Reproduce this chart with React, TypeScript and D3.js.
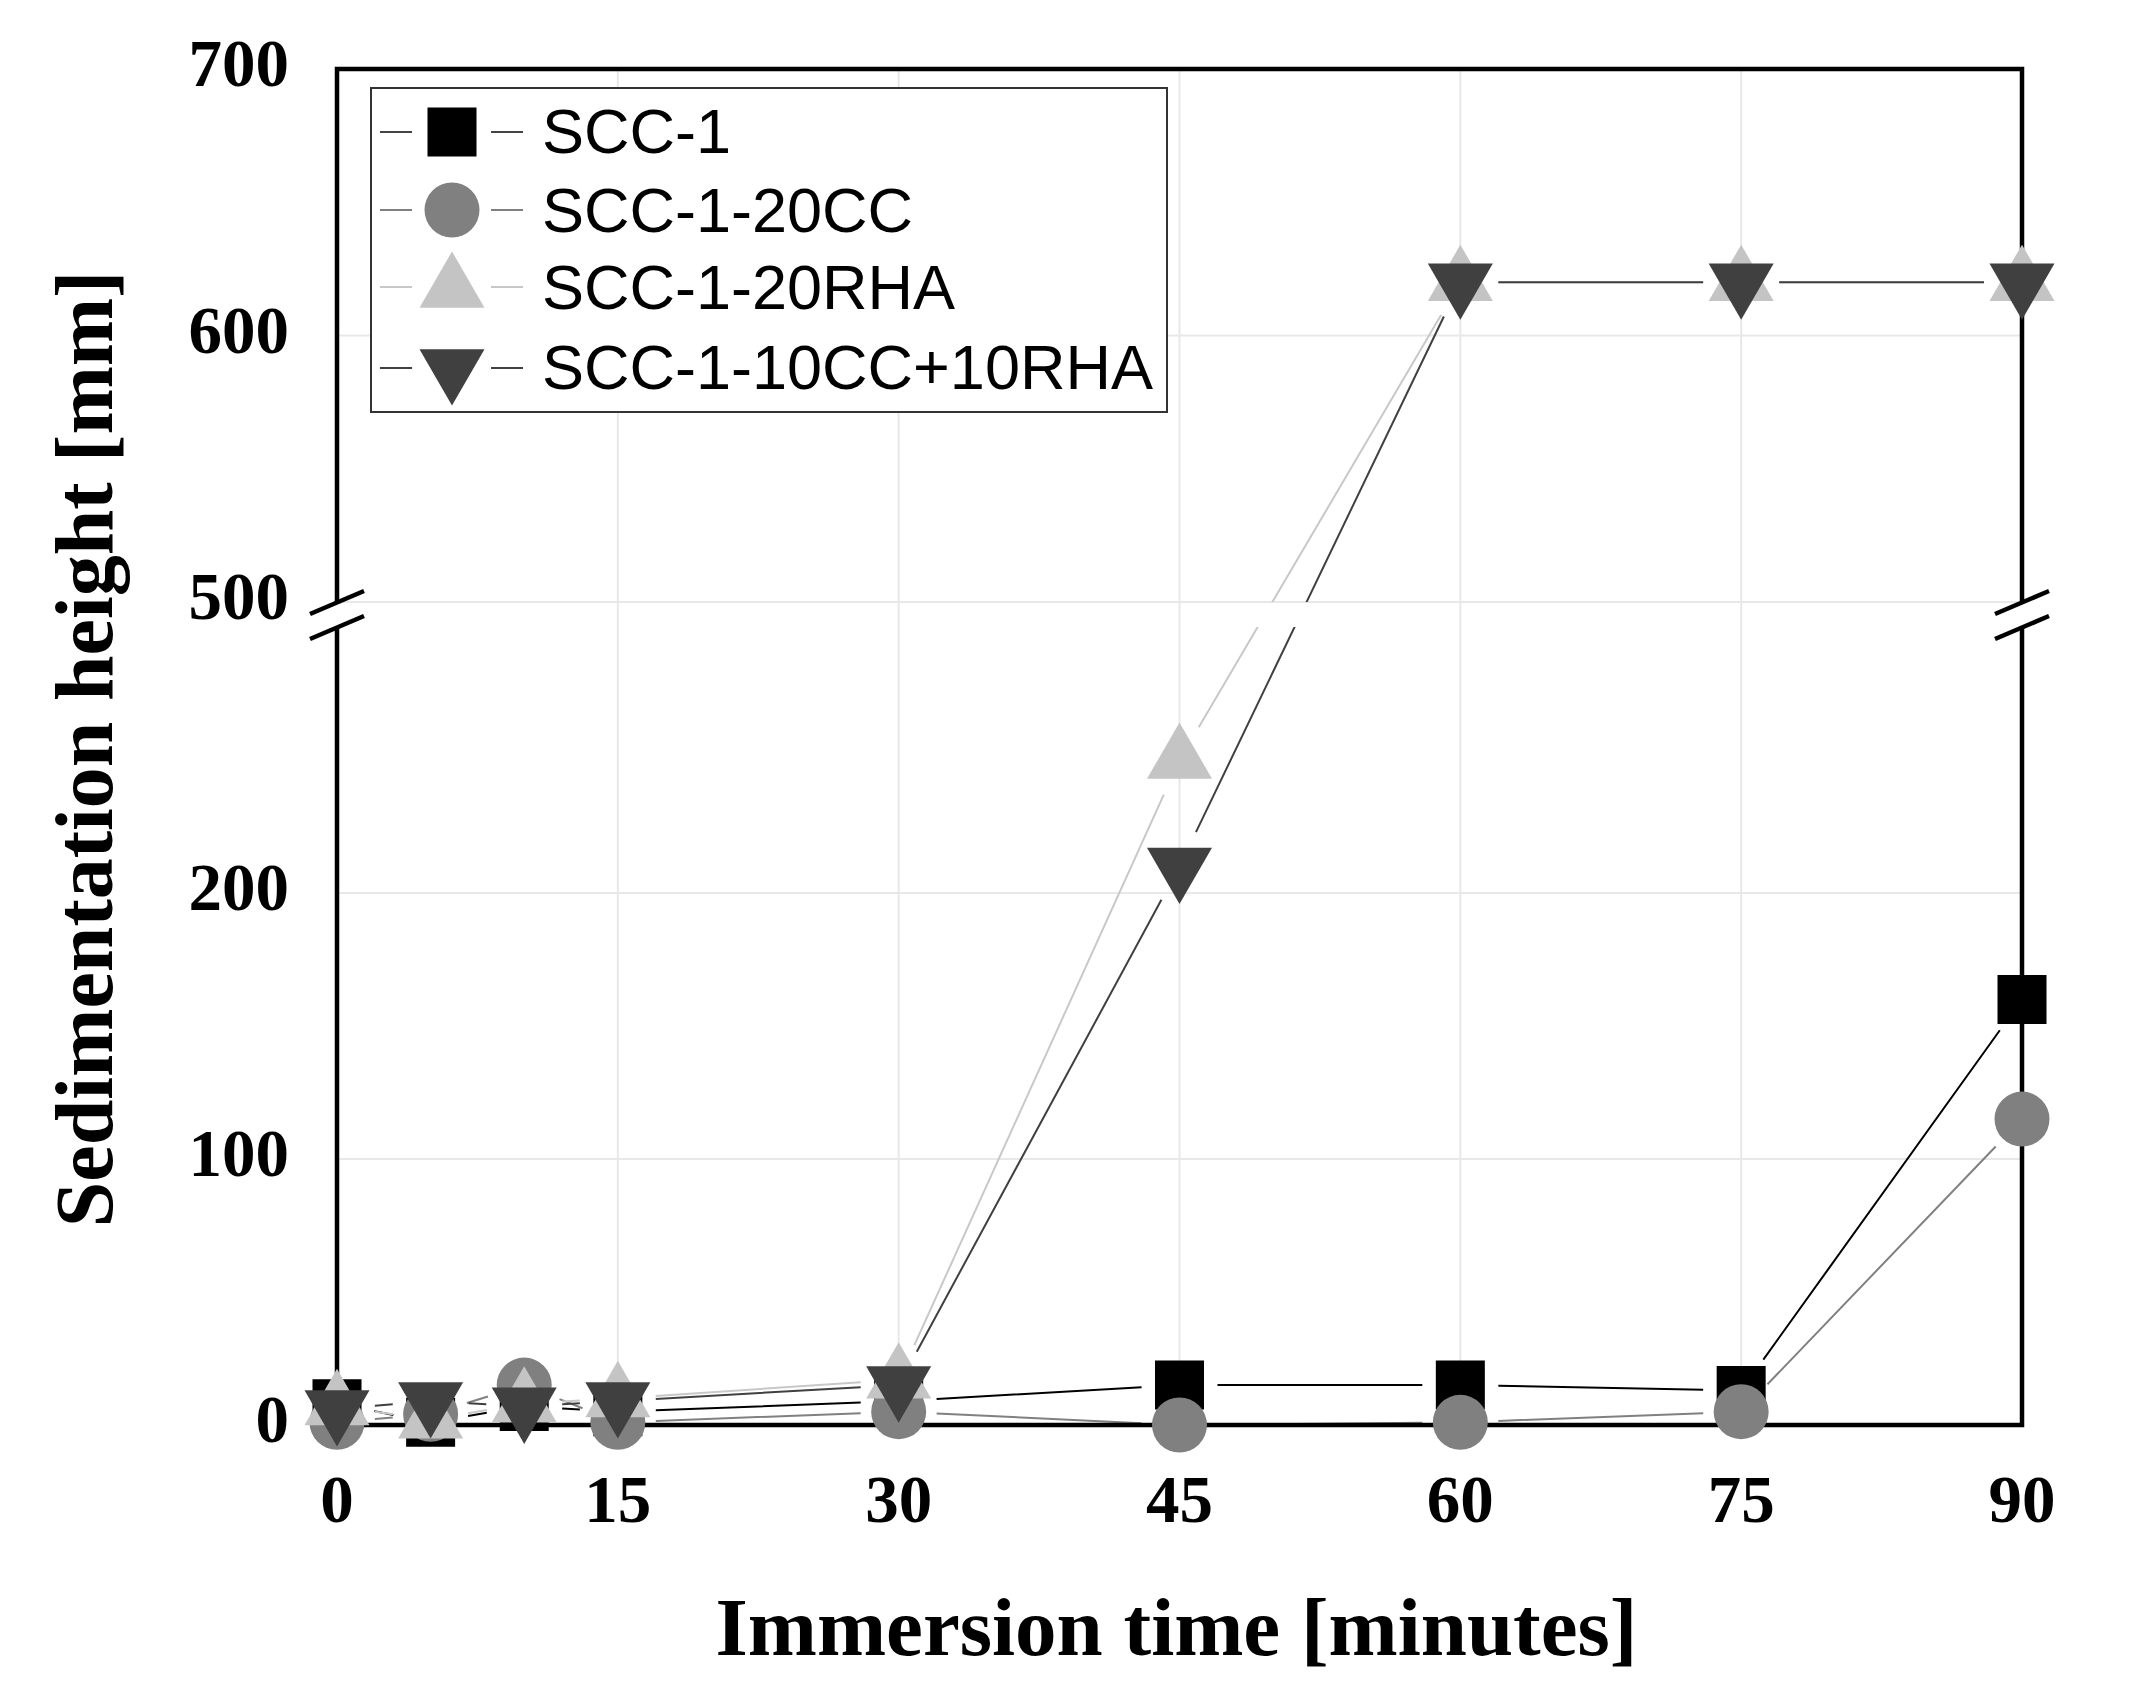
import { useMemo } from "react";
import * as d3 from "d3";

// immersion time [minutes]
const times = [0, 5, 10, 15, 30, 45, 60, 75, 90];
const scc1 = [8, 1, 7, 5, 9, 15, 15, 13, 160];
const scc1cc = [1, 4, 15, 1, 5, 0, 1, 5, 115];
const scc1rha = [7, 2, 8, 10, 17, 250, 620, 620, 620];
const scc1mix = [6, 9, 7, 9, 15, 210, 620, 620, 620];

const seriesNames = ["SCC-1", "SCC-1-20CC", "SCC-1-20RHA", "SCC-1-10CC+10RHA"];
const xTicks = [0, 15, 30, 45, 60, 75, 90];
const yTicksLow = [0, 100, 200];
const yTicksHigh = [500, 600, 700];
const xGrid = [15, 30, 45, 60, 75];
const yGrid = [100, 200, 500, 600];

const W = 2134;
const H = 1707;
const left = 337;
const right = 2022;
const top = 69;
const bottom = 1425;
const breakHi = 602; // y of 500 (bottom of upper segment)
const breakLo = 627; // y of 300 (top of lower segment)

const serif = "'Liberation Serif', 'Times New Roman', serif";
const sans = "'Liberation Sans', Arial, sans-serif";

type Style = { kind: string; fill: string; line: string; size: number };
const styles: Style[] = [
  { kind: "square", fill: "#000000", line: "#000000", size: 49 * 49 },
  { kind: "circle", fill: "#808080", line: "#808080", size: Math.PI * 27.5 * 27.5 },
  { kind: "up", fill: "#c4c4c4", line: "#c8c8c8", size: 1830 },
  { kind: "down", fill: "#404040", line: "#404040", size: 1830 },
];

function Marker({ s, x, y }: { s: Style; x: number; y: number }) {
  const type =
    s.kind === "square" ? d3.symbolSquare : s.kind === "circle" ? d3.symbolCircle : d3.symbolTriangle;
  const d = d3.symbol().type(type).size(s.size)() ?? "";
  const rot = s.kind === "down" ? " rotate(180)" : "";
  return <path d={d} transform={`translate(${x},${y})${rot}`} fill={s.fill} />;
}

export default function App() {
  const x = useMemo(() => d3.scaleLinear().domain([0, 90]).range([left, right]), []);
  const yLow = useMemo(() => d3.scaleLinear().domain([0, 300]).range([bottom, breakLo]), []);
  const yHigh = useMemo(() => d3.scaleLinear().domain([500, 700]).range([breakHi, top]), []);
  const y = (v: number) => (v <= 400 ? yLow(v) : yHigh(v));

  const data = [scc1, scc1cc, scc1rha, scc1mix];
  const gap = 38;

  // line segments shortened near the symbols, like the original plot
  const segments = data.map((vals) => {
    const segs: string[] = [];
    for (let i = 0; i < vals.length - 1; i++) {
      const x0 = x(times[i]);
      const y0 = y(vals[i]);
      const x1 = x(times[i + 1]);
      const y1 = y(vals[i + 1]);
      const len = Math.hypot(x1 - x0, y1 - y0);
      if (len <= gap * 2 + 4) continue;
      const ux = (x1 - x0) / len;
      const uy = (y1 - y0) / len;
      segs.push(`M${x0 + ux * gap},${y0 + uy * gap}L${x1 - ux * gap},${y1 - uy * gap}`);
    }
    return segs.join("");
  });

  const legendX = 371;
  const legendRows = [132, 210, 289, 368];
  const legendBase = [153, 232, 309, 389];

  const breakMark = (cx: number) => (
    <g stroke="#000" strokeWidth={4.5}>
      <line x1={cx} y1={breakHi} x2={cx} y2={breakLo} stroke="#fff" strokeWidth={10} />
      <line x1={cx - 27} y1={breakHi + 12} x2={cx + 27} y2={breakHi - 11} />
      <line x1={cx - 27} y1={breakLo + 12} x2={cx + 27} y2={breakLo - 11} />
    </g>
  );

  return (
    <svg width={W} height={H} style={{ position: "absolute", left: 0, top: 0, background: "#fff" }}>
      <defs>
        <clipPath id="clipHigh">
          <rect x={0} y={0} width={W} height={breakHi} />
        </clipPath>
        <clipPath id="clipLow">
          <rect x={0} y={breakLo} width={W} height={H - breakLo} />
        </clipPath>
      </defs>
      <rect width={W} height={H} fill="#fff" />

      {/* grid */}
      {xGrid.map((t) => (
        <line key={`gx${t}`} x1={x(t)} x2={x(t)} y1={top} y2={bottom} stroke="#e8e8e8" strokeWidth={2} />
      ))}
      {yGrid.map((t) => (
        <line key={`gy${t}`} x1={left} x2={right} y1={y(t)} y2={y(t)} stroke="#e8e8e8" strokeWidth={2} />
      ))}

      {/* series lines, cut at the axis break */}
      {segments.map((d, i) => (
        <g key={`l${i}`}>
          <path d={d} stroke={styles[i].line} strokeWidth={2} fill="none" clipPath="url(#clipHigh)" />
          <path d={d} stroke={styles[i].line} strokeWidth={2} fill="none" clipPath="url(#clipLow)" />
        </g>
      ))}

      {/* frame */}
      <rect x={left} y={top} width={right - left} height={bottom - top} fill="none" stroke="#000" strokeWidth={4.5} />
      {breakMark(left)}
      {breakMark(right)}

      {/* markers */}
      {data.map((vals, i) => (
        <g key={`m${i}`}>
          {vals.map((v, j) => (
            <Marker key={j} s={styles[i]} x={x(times[j])} y={y(v)} />
          ))}
        </g>
      ))}

      {/* tick labels */}
      <g fontFamily={serif} fontWeight="bold" fontSize={67} fill="#000">
        {[...yTicksLow, ...yTicksHigh].map((t) => (
          <text key={`yt${t}`} x={289} y={y(t) + 17} textAnchor="end">
            {t}
          </text>
        ))}
        {xTicks.map((t) => (
          <text key={`xt${t}`} x={x(t)} y={1522} textAnchor="middle">
            {t}
          </text>
        ))}
      </g>

      {/* axis titles */}
      <text x={(left + right) / 2 - 3} y={1655} textAnchor="middle" fontFamily={serif} fontWeight="bold" fontSize={83}>
        Immersion time [minutes]
      </text>
      <text
        transform={`translate(112,749) rotate(-90)`}
        textAnchor="middle"
        fontFamily={serif}
        fontWeight="bold"
        fontSize={82}
      >
        Sedimentation height [mm]
      </text>

      {/* legend */}
      <rect x={legendX} y={88} width={1167 - legendX} height={412 - 88} fill="#fff" stroke="#333" strokeWidth={2} />
      {seriesNames.map((name, i) => {
        const ly = legendRows[i] + (i === 2 ? -2 : 0);
        const lc = i === 0 ? "#444" : styles[i].line;
        return (
          <g key={name}>
            <line x1={380} x2={412} y1={ly} y2={ly} stroke={lc} strokeWidth={2} />
            <line x1={491} x2={523} y1={ly} y2={ly} stroke={lc} strokeWidth={2} />
            <Marker s={styles[i]} x={452} y={legendRows[i]} />
            <text x={542} y={legendBase[i]} fontFamily={sans} fontSize={63} fill="#000">
              {name}
            </text>
          </g>
        );
      })}
    </svg>
  );
}
